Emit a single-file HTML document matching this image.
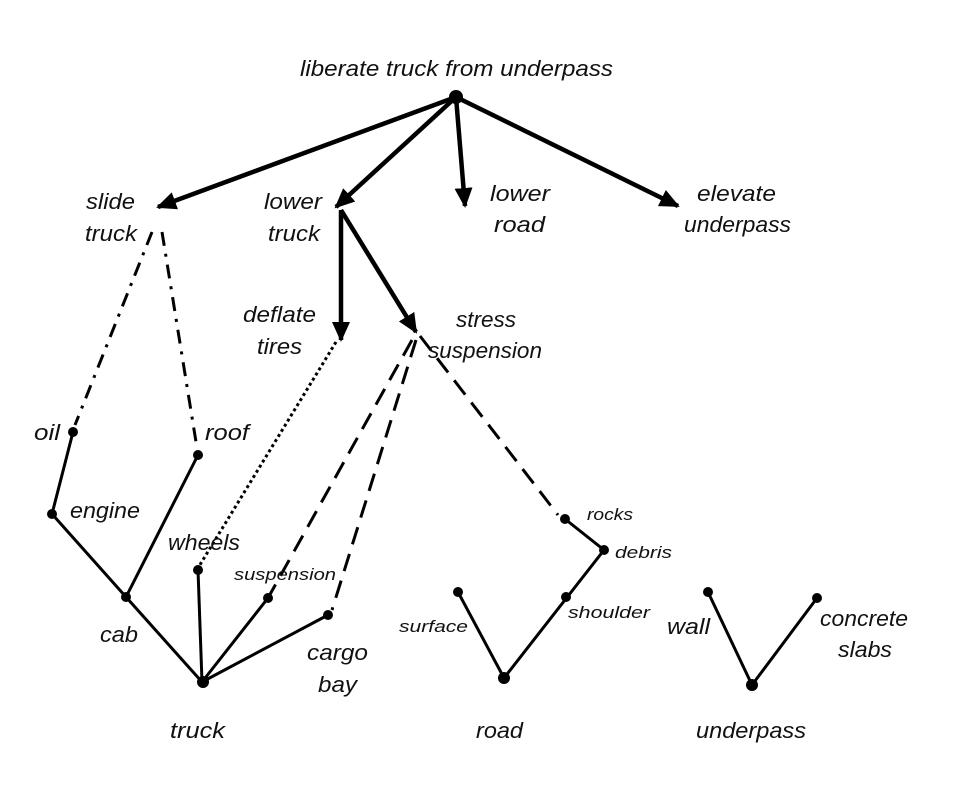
<!DOCTYPE html>
<html><head><meta charset="utf-8"><style>
html,body{margin:0;padding:0;background:#fff;}
svg{display:block;}
text{font-family:"Liberation Sans",sans-serif;font-style:italic;fill:#111;}
.l{font-size:22px;}
.s{font-size:17px;}
</style></head><body>
<svg width="968" height="792" viewBox="0 0 968 792" xmlns="http://www.w3.org/2000/svg">
<defs>
<marker id="ah" markerWidth="20" markerHeight="18" refX="18" refY="9" orient="auto" markerUnits="userSpaceOnUse">
<path d="M0,0 L20,9 L0,18 Z" fill="#000"/>
</marker>
</defs>
<g stroke="#000" fill="none" stroke-linecap="butt">
<g stroke-width="4.5" marker-end="url(#ah)">
<line x1="456" y1="97" x2="158" y2="207"/>
<line x1="456" y1="97" x2="336" y2="207"/>
<line x1="456" y1="97" x2="465" y2="206"/>
<line x1="456" y1="97" x2="678" y2="206"/>
<line x1="341" y1="210" x2="341" y2="340"/>
<line x1="341" y1="210" x2="416" y2="332"/>
</g>
<g stroke-width="3" stroke-dasharray="14 8 3 8">
<line x1="152" y1="232" x2="75" y2="425"/>
<line x1="162" y1="232" x2="197" y2="448"/>
</g>
<line x1="336" y1="342" x2="198" y2="568" stroke-width="3" stroke-dasharray="3 3"/>
<g stroke-width="3" stroke-dasharray="18 10">
<line x1="412" y1="340" x2="268" y2="598"/>
<line x1="416" y1="340" x2="332" y2="610"/>
<line x1="420" y1="336" x2="558" y2="515"/>
</g>
<g stroke-width="3">
<polyline points="73,432 52,514 126,597 198,455"/>
<line x1="198" y1="570" x2="202" y2="682"/>
<polyline points="268,598 202,682 328,615"/>
<line x1="126" y1="597" x2="202" y2="682"/>
<polyline points="565,519 604,550 504,678 458,592"/>
<polyline points="708,592 752,685 817,598"/>
</g>
</g>
<g fill="#000">
<circle cx="456" cy="97" r="7"/>
<circle cx="73" cy="432" r="5"/>
<circle cx="52" cy="514" r="5"/>
<circle cx="126" cy="597" r="5"/>
<circle cx="198" cy="455" r="5"/>
<circle cx="198" cy="570" r="5"/>
<circle cx="268" cy="598" r="5"/>
<circle cx="328" cy="615" r="5"/>
<circle cx="203" cy="682" r="6"/>
<circle cx="565" cy="519" r="5"/>
<circle cx="604" cy="550" r="5"/>
<circle cx="566" cy="597" r="5"/>
<circle cx="458" cy="592" r="5"/>
<circle cx="504" cy="678" r="6"/>
<circle cx="708" cy="592" r="5"/>
<circle cx="817" cy="598" r="5"/>
<circle cx="752" cy="685" r="6"/>
</g>
<text class="l" x="300" y="76" textLength="313" lengthAdjust="spacingAndGlyphs">liberate truck from underpass</text>
<text class="l" x="86" y="209" textLength="49" lengthAdjust="spacingAndGlyphs">slide</text>
<text class="l" x="85" y="241" textLength="52" lengthAdjust="spacingAndGlyphs">truck</text>
<text class="l" x="264" y="209" textLength="58" lengthAdjust="spacingAndGlyphs">lower</text>
<text class="l" x="268" y="241" textLength="52" lengthAdjust="spacingAndGlyphs">truck</text>
<text class="l" x="490" y="201" textLength="60" lengthAdjust="spacingAndGlyphs">lower</text>
<text class="l" x="494" y="232" textLength="51" lengthAdjust="spacingAndGlyphs">road</text>
<text class="l" x="697" y="201" textLength="79" lengthAdjust="spacingAndGlyphs">elevate</text>
<text class="l" x="684" y="232" textLength="107" lengthAdjust="spacingAndGlyphs">underpass</text>
<text class="l" x="243" y="322" textLength="73" lengthAdjust="spacingAndGlyphs">deflate</text>
<text class="l" x="257" y="354" textLength="45" lengthAdjust="spacingAndGlyphs">tires</text>
<text class="l" x="456" y="327" textLength="60" lengthAdjust="spacingAndGlyphs">stress</text>
<text class="l" x="428" y="358" textLength="114" lengthAdjust="spacingAndGlyphs">suspension</text>
<text class="l" x="34" y="440" textLength="26" lengthAdjust="spacingAndGlyphs">oil</text>
<text class="l" x="205" y="440" textLength="44" lengthAdjust="spacingAndGlyphs">roof</text>
<text class="l" x="70" y="518" textLength="70" lengthAdjust="spacingAndGlyphs">engine</text>
<text class="l" x="168" y="550" textLength="72" lengthAdjust="spacingAndGlyphs">wheels</text>
<text class="s" x="234" y="580" textLength="102" lengthAdjust="spacingAndGlyphs">suspension</text>
<text class="l" x="100" y="642" textLength="38" lengthAdjust="spacingAndGlyphs">cab</text>
<text class="l" x="307" y="660" textLength="61" lengthAdjust="spacingAndGlyphs">cargo</text>
<text class="l" x="318" y="692" textLength="39" lengthAdjust="spacingAndGlyphs">bay</text>
<text class="l" x="170" y="738" textLength="55" lengthAdjust="spacingAndGlyphs">truck</text>
<text class="s" x="587" y="520" textLength="46" lengthAdjust="spacingAndGlyphs">rocks</text>
<text class="s" x="615" y="558" textLength="57" lengthAdjust="spacingAndGlyphs">debris</text>
<text class="s" x="568" y="618" textLength="82" lengthAdjust="spacingAndGlyphs">shoulder</text>
<text class="s" x="399" y="632" textLength="69" lengthAdjust="spacingAndGlyphs">surface</text>
<text class="l" x="476" y="738" textLength="47" lengthAdjust="spacingAndGlyphs">road</text>
<text class="l" x="667" y="634" textLength="43" lengthAdjust="spacingAndGlyphs">wall</text>
<text class="l" x="820" y="626" textLength="88" lengthAdjust="spacingAndGlyphs">concrete</text>
<text class="l" x="838" y="657" textLength="54" lengthAdjust="spacingAndGlyphs">slabs</text>
<text class="l" x="696" y="738" textLength="110" lengthAdjust="spacingAndGlyphs">underpass</text>
</svg>
</body></html>
